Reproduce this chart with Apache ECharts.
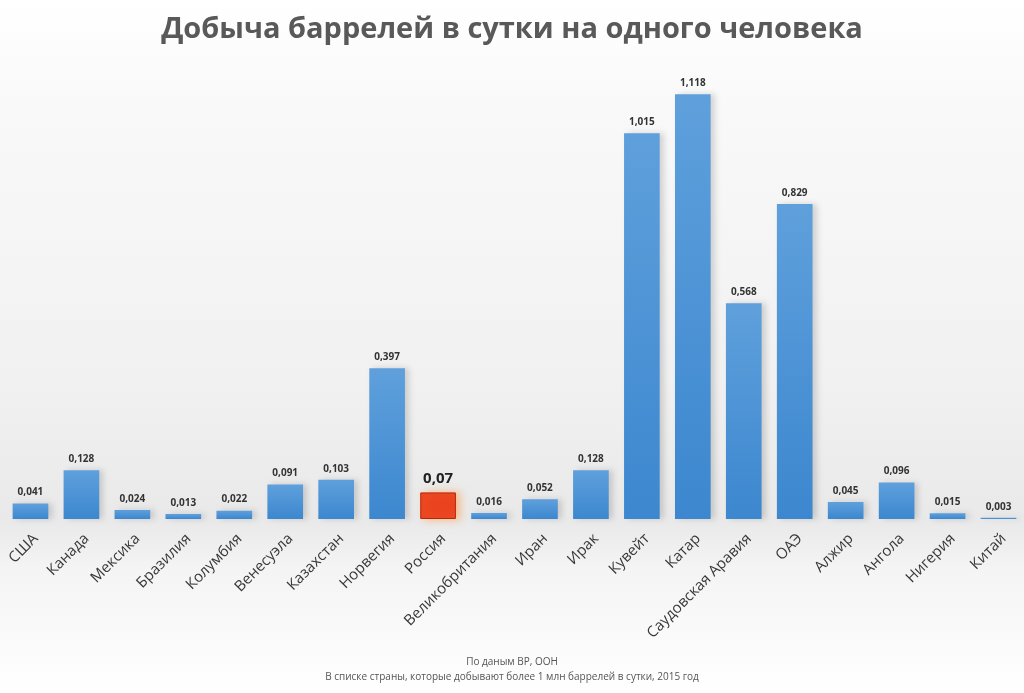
<!DOCTYPE html>
<html><head><meta charset="utf-8">
<script src="https://cdn.jsdelivr.net/npm/echarts@6/dist/echarts.min.js"></script>
<style>html,body{margin:0;padding:0;background:#fff}#c{width:1024px;height:693px}</style>
</head><body><div id="c"></div>
<script>
const categories = ['США','Канада','Мексика','Бразилия','Колумбия','Венесуэла','Казахстан','Норвегия','Россия','Великобритания','Иран','Ирак','Кувейт','Катар','Саудовская Аравия','ОАЭ','Алжир','Ангола','Нигерия','Китай'];
const values = [0.041,0.128,0.024,0.013,0.022,0.091,0.103,0.397,0.07,0.016,0.052,0.128,1.015,1.118,0.568,0.829,0.045,0.096,0.015,0.003];
const highlight = 'Россия';
const titleText = 'Добыча баррелей в сутки на одного человека';
const note1 = 'По даным BP, ООН';
const note2 = 'В списке страны, которые добывают более 1 млн баррелей в сутки, 2015 год';

const blue = new echarts.graphic.LinearGradient(0,0,0,1,[{offset:0,color:'#5fa0dc'},{offset:1,color:'#3c87cf'}]);
const data = values.map((v,i)=> categories[i]===highlight ? {
  value:v,
  itemStyle:{color:'#ea4320',borderColor:'#b8250b',borderWidth:1,shadowColor:'rgba(255,150,60,0.6)',shadowBlur:8},
  label:{fontSize:15,fontWeight:'bold',color:'#222',formatter:'0,07'}
} : v);

const chart = echarts.init(document.getElementById('c'));
chart.setOption({
  animation:false,
  backgroundColor: new echarts.graphic.LinearGradient(0,0,0,1,[
    {offset:0,color:'#ffffff'},{offset:0.15,color:'#f9f9f9'},{offset:0.55,color:'#f1f1f1'},{offset:0.75,color:'#e9e9e9'},{offset:0.82,color:'#f4f4f4'},{offset:1,color:'#ffffff'}]),
  title:{text:titleText,left:'center',top:10,textStyle:{fontFamily:'Open Sans',fontSize:29,fontWeight:'bold',color:'#595959'}},
  graphic:[
    {type:'text',left:'center',top:657,style:{text:note1,fontFamily:'Open Sans',fontSize:10,fill:'#555'}},
    {type:'text',left:'center',top:672,style:{text:note2,fontFamily:'Open Sans',fontSize:10,fill:'#555'}}
  ],
  grid:{left:5,right:0,top:63,bottom:174,containLabel:false},
  xAxis:{type:'category',data:categories,
    axisLine:{show:false},axisTick:{show:false},
    axisLabel:{rotate:45,interval:0,margin:12,verticalAlign:'top',fontFamily:'Open Sans',fontSize:15,color:'#383838'}},
  yAxis:{type:'value',min:0,max:1.2,show:false},
  series:[{type:'bar',data:data,barWidth:'70%',
    itemStyle:{color:blue,shadowColor:'rgba(0,0,0,0.15)',shadowBlur:6,shadowOffsetX:4},
    label:{show:true,position:'top',distance:6,fontFamily:'Open Sans',fontSize:10,fontWeight:'bold',color:'#333',
      formatter:p=>String(p.value.toFixed(3)).replace('.',',')}
  }]
});
</script></body></html>
